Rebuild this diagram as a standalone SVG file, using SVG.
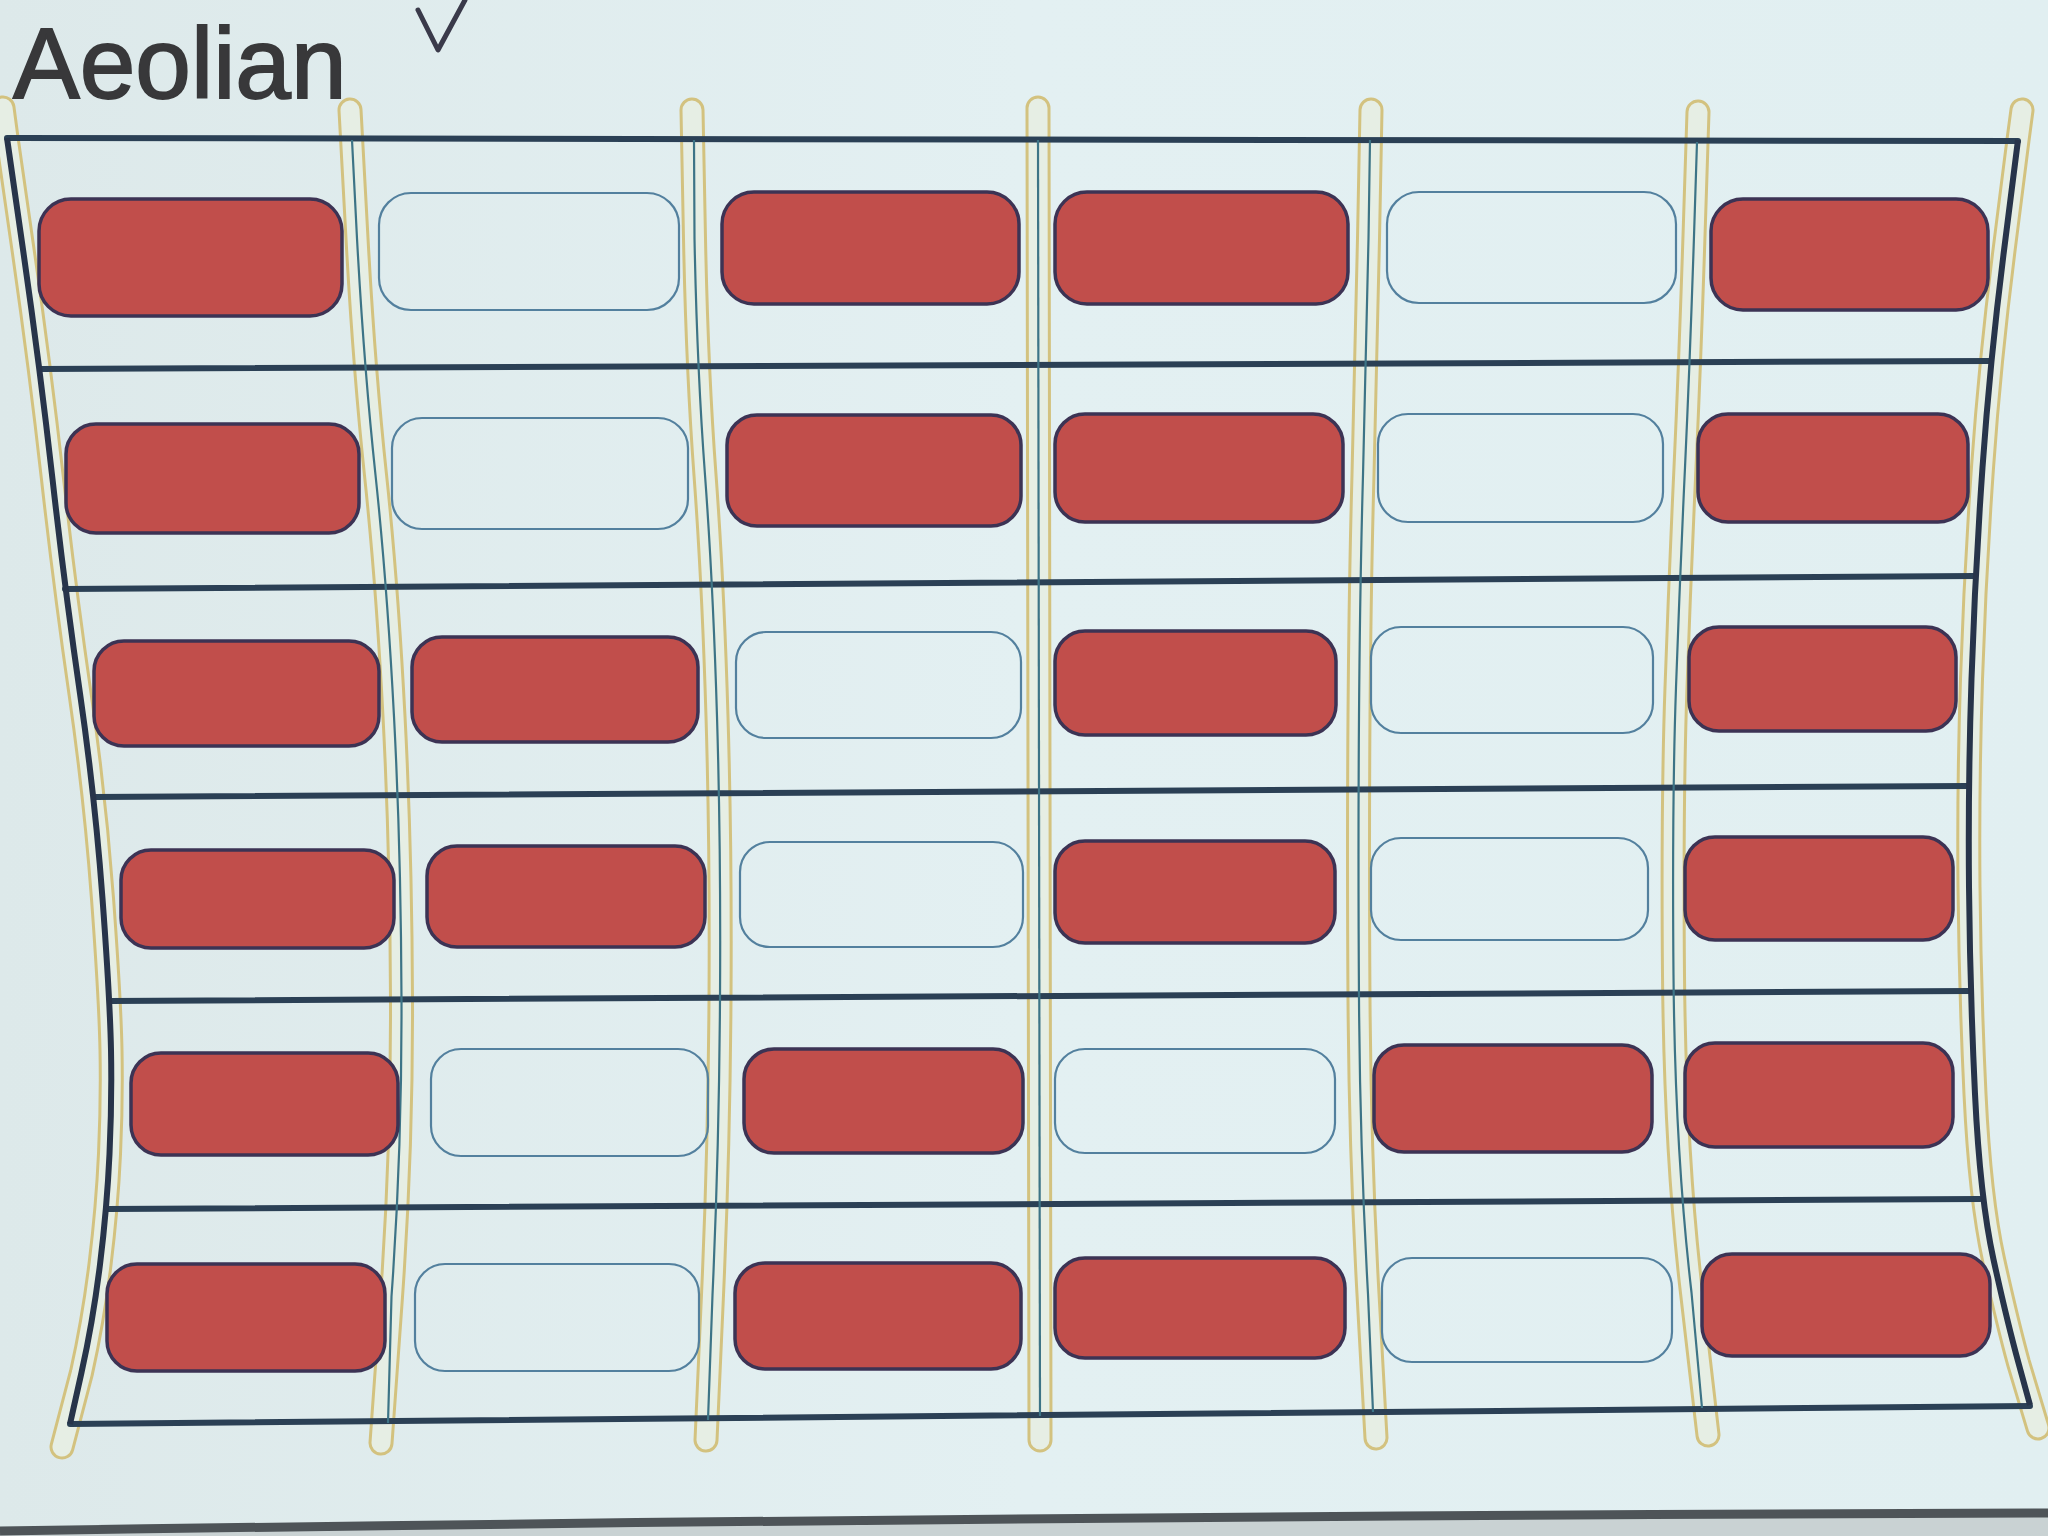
<svg xmlns="http://www.w3.org/2000/svg" width="2048" height="1536" viewBox="0 0 2048 1536">
<defs>
<linearGradient id="bg" x1="0" y1="0" x2="1" y2="0">
<stop offset="0" stop-color="#dde9ea"/>
<stop offset="0.5" stop-color="#e3f0f2"/>
<stop offset="1" stop-color="#e1eff1"/>
</linearGradient>
<style>
.fy{fill:none;stroke:#d3c27f;stroke-width:25;stroke-linecap:round;stroke-linejoin:round}
.fi{fill:none;stroke:#e6eee4;stroke-width:19;stroke-linecap:round;stroke-linejoin:round}
.fd{fill:none;stroke:#3d7486;stroke-width:2.2}
.bd{fill:none;stroke:#27344a;stroke-width:6;stroke-linejoin:round}
.st{stroke:#2b4055;stroke-width:6;stroke-linecap:round}
.r{fill:#c14e4b;stroke:#3c3354;stroke-width:3.5}
.e{fill:none;stroke:#53809e;stroke-width:2.2}
.t{font-family:"Liberation Sans",Arial,sans-serif;font-size:100px;fill:#38383a;stroke:#38383a;stroke-width:1.8}
</style>
</defs>
<rect width="2048" height="1536" fill="url(#bg)"/>
<path d="M0,1531 Q1000,1516 2048,1513 L2048,1536 L0,1536 Z" fill="#c9d2d3"/>
<path d="M0,1531 Q1000,1516 2048,1513" fill="none" stroke="#4e5458" stroke-width="9"/>

<g id="title">
<text class="t" x="13" y="98">Aeolian</text>
<path d="M418,10 L438,50 L465,0" fill="none" stroke="#3a3a4a" stroke-width="5" stroke-linecap="round" stroke-linejoin="round"/>
</g>

<g id="frets">
<g id="nut-left">
<path class="fy" d="M3,108 L7,138 L23.5,253 Q40,368 52.5,479 Q65,590 80,693.5 Q95,797 102.5,898.5 Q110,1000 111,1050 Q112,1100 109.5,1154 Q107,1208 100,1264.5 Q93,1321 81.5,1372.5 L62,1447"/>
<path class="fi" d="M3,108 L7,138 L23.5,253 Q40,368 52.5,479 Q65,590 80,693.5 Q95,797 102.5,898.5 Q110,1000 111,1050 Q112,1100 109.5,1154 Q107,1208 100,1264.5 Q93,1321 81.5,1372.5 L62,1447"/>
</g>
<g id="edge-right">
<path class="fy" d="M2022,110 L2018,140 L2004,250.5 Q1990,361 1982.5,467.5 Q1975,574 1971.5,679 Q1968,784 1969,887 Q1970,990 1975,1094 Q1980,1198 1993.5,1259.5 Q2007,1321 2018.5,1363 L2038,1428"/>
<path class="fi" d="M2022,110 L2018,140 L2004,250.5 Q1990,361 1982.5,467.5 Q1975,574 1971.5,679 Q1968,784 1969,887 Q1970,990 1975,1094 Q1980,1198 1993.5,1259.5 Q2007,1321 2018.5,1363 L2038,1428"/>
</g>
<g id="fret1">
<path class="fy" d="M350,110 L357,238.5 Q364,367 375.5,475 Q387,583 394,716.5 Q401,850 401.5,1000 Q402,1150 391.5,1296.5 L381,1443"/>
<path class="fi" d="M350,110 L357,238.5 Q364,367 375.5,475 Q387,583 394,716.5 Q401,850 401.5,1000 Q402,1150 391.5,1296.5 L381,1443"/>
</g>
<g id="fret2">
<path class="fy" d="M692,110 L694.5,238.5 Q697,367 705,475 Q713,583 717,716.5 Q721,850 720,1000 Q719,1150 712.5,1295 L706,1440"/>
<path class="fi" d="M692,110 L694.5,238.5 Q697,367 705,475 Q713,583 717,716.5 Q721,850 720,1000 Q719,1150 712.5,1295 L706,1440"/>
</g>
<g id="fret3">
<path class="fy" d="M1038,108 L1040,1440"/>
<path class="fi" d="M1038,108 L1040,1440"/>
</g>
<g id="fret4">
<path class="fy" d="M1371,110 L1368.5,238.5 Q1366,367 1363,475 Q1360,583 1359,716.5 Q1358,850 1359,1000 Q1360,1150 1368,1294 L1376,1438"/>
<path class="fi" d="M1371,110 L1368.5,238.5 Q1366,367 1363,475 Q1360,583 1359,716.5 Q1358,850 1359,1000 Q1360,1150 1368,1294 L1376,1438"/>
</g>
<g id="fret5">
<path class="fy" d="M1698,112 L1694,236 Q1690,360 1685,467.5 Q1680,575 1676,687.5 Q1672,800 1673.5,975 Q1675,1150 1691.5,1292.5 L1708,1435"/>
<path class="fi" d="M1698,112 L1694,236 Q1690,360 1685,467.5 Q1680,575 1676,687.5 Q1672,800 1673.5,975 Q1675,1150 1691.5,1292.5 L1708,1435"/>
</g>
</g>

<g id="strings">
<line class="st" x1="7" y1="138" x2="2018" y2="141"/>
<line class="st" x1="40" y1="369" x2="1990" y2="361"/>
<line class="st" x1="65" y1="589" x2="1975" y2="576"/>
<line class="st" x1="95" y1="797" x2="1968" y2="786"/>
<line class="st" x1="110" y1="1001" x2="1970" y2="991"/>
<line class="st" x1="107" y1="1209" x2="1980" y2="1199"/>
<line class="st" x1="70" y1="1424" x2="2030" y2="1406"/>
</g>

<g id="fret-lines">
<path class="fd" d="M352,140 L357,238.5 Q364,367 375.5,475 Q387,583 394,716.5 Q401,850 401.5,1000 Q402,1150 391.5,1296.5 L388,1423"/>
<path class="fd" d="M694,140 L694.5,238.5 Q697,367 705,475 Q713,583 717,716.5 Q721,850 720,1000 Q719,1150 712.5,1295 L708,1420"/>
<path class="fd" d="M1038,140 L1040,1416"/>
<path class="fd" d="M1370,140 L1368.5,238.5 Q1366,367 1363,475 Q1360,583 1359,716.5 Q1358,850 1359,1000 Q1360,1150 1368,1294 L1373,1412"/>
<path class="fd" d="M1697,142 L1694,236 Q1690,360 1685,467.5 Q1680,575 1676,687.5 Q1672,800 1673.5,975 Q1675,1150 1691.5,1292.5 L1702,1408"/>
</g>

<g id="boundaries">
<path class="bd" d="M7,138 L23.5,253 Q40,368 52.5,479 Q65,590 80,693.5 Q95,797 102.5,898.5 Q110,1000 111,1050 Q112,1100 109.5,1154 Q107,1208 100,1264.5 Q93,1321 81.5,1372.5 L70,1424"/>
<path class="bd" d="M2018,140 L2004,250.5 Q1990,361 1982.5,467.5 Q1975,574 1971.5,679 Q1968,784 1969,887 Q1970,990 1975,1094 Q1980,1198 1993.5,1259.5 Q2007,1321 2018.5,1363 L2030,1405"/>
</g>

<g id="notes">
<g id="row1">
<rect id="n1-1" class="r" x="39" y="199" width="303" height="117" rx="32"/>
<rect id="n1-2" class="e" x="379" y="193" width="300" height="117" rx="32"/>
<rect id="n1-3" class="r" x="722" y="192" width="297" height="112" rx="32"/>
<rect id="n1-4" class="r" x="1055" y="192" width="293" height="112" rx="32"/>
<rect id="n1-5" class="e" x="1387" y="192" width="289" height="111" rx="32"/>
<rect id="n1-6" class="r" x="1711" y="199" width="277" height="111" rx="32"/>
</g>
<g id="row2">
<rect id="n2-1" class="r" x="66" y="424" width="293" height="109" rx="30"/>
<rect id="n2-2" class="e" x="392" y="418" width="296" height="111" rx="30"/>
<rect id="n2-3" class="r" x="727" y="415" width="294" height="111" rx="30"/>
<rect id="n2-4" class="r" x="1055" y="414" width="288" height="108" rx="30"/>
<rect id="n2-5" class="e" x="1378" y="414" width="285" height="108" rx="30"/>
<rect id="n2-6" class="r" x="1698" y="414" width="270" height="108" rx="30"/>
</g>
<g id="row3">
<rect id="n3-1" class="r" x="94" y="641" width="285" height="105" rx="30"/>
<rect id="n3-2" class="r" x="412" y="637" width="286" height="105" rx="30"/>
<rect id="n3-3" class="e" x="736" y="632" width="285" height="106" rx="30"/>
<rect id="n3-4" class="r" x="1055" y="631" width="281" height="104" rx="30"/>
<rect id="n3-5" class="e" x="1371" y="627" width="282" height="106" rx="30"/>
<rect id="n3-6" class="r" x="1689" y="627" width="267" height="104" rx="30"/>
</g>
<g id="row4">
<rect id="n4-1" class="r" x="121" y="850" width="273" height="98" rx="30"/>
<rect id="n4-2" class="r" x="427" y="846" width="278" height="101" rx="30"/>
<rect id="n4-3" class="e" x="740" y="842" width="283" height="105" rx="30"/>
<rect id="n4-4" class="r" x="1055" y="841" width="280" height="102" rx="30"/>
<rect id="n4-5" class="e" x="1371" y="838" width="277" height="102" rx="30"/>
<rect id="n4-6" class="r" x="1685" y="837" width="268" height="103" rx="30"/>
</g>
<g id="row5">
<rect id="n5-1" class="r" x="131" y="1053" width="267" height="102" rx="30"/>
<rect id="n5-2" class="e" x="431" y="1049" width="277" height="107" rx="30"/>
<rect id="n5-3" class="r" x="744" y="1049" width="279" height="104" rx="30"/>
<rect id="n5-4" class="e" x="1055" y="1049" width="280" height="104" rx="30"/>
<rect id="n5-5" class="r" x="1374" y="1045" width="278" height="107" rx="30"/>
<rect id="n5-6" class="r" x="1685" y="1043" width="268" height="104" rx="30"/>
</g>
<g id="row6">
<rect id="n6-1" class="r" x="107" y="1264" width="278" height="107" rx="30"/>
<rect id="n6-2" class="e" x="415" y="1264" width="284" height="107" rx="30"/>
<rect id="n6-3" class="r" x="735" y="1263" width="286" height="106" rx="30"/>
<rect id="n6-4" class="r" x="1055" y="1258" width="290" height="100" rx="30"/>
<rect id="n6-5" class="e" x="1382" y="1258" width="290" height="104" rx="30"/>
<rect id="n6-6" class="r" x="1702" y="1254" width="288" height="102" rx="30"/>
</g>
</g>
</svg>
